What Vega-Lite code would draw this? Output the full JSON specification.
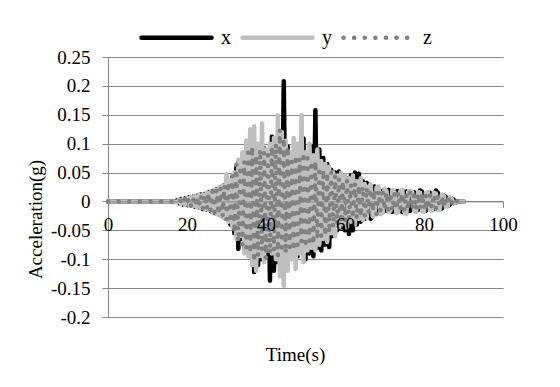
{
  "$schema": "https://vega.github.io/schema/vega-lite/v6.json",
  "width": 395,
  "height": 260,
  "autosize": {"type": "none"},
  "padding": {"left": 108, "top": 57, "right": 57, "bottom": 70},
  "background": "white",
  "data": {"values": [
    {"t":0,"x":0,"y":0,"z":0},
    {"t":17,"x":0,"y":0,"z":0},
    {"t":17.5,"x":0.002,"y":-0.002,"z":0.001},
    {"t":18,"x":-0.003,"y":0.003,"z":-0.002},
    {"t":18.5,"x":0.004,"y":-0.004,"z":0.003},
    {"t":19,"x":-0.005,"y":0.004,"z":-0.004},
    {"t":19.5,"x":0.005,"y":-0.006,"z":0.005},
    {"t":20,"x":-0.006,"y":0.006,"z":-0.005},
    {"t":20.5,"x":0.007,"y":-0.007,"z":0.006},
    {"t":21,"x":-0.007,"y":0.008,"z":-0.007},
    {"t":21.5,"x":0.008,"y":-0.008,"z":0.007},
    {"t":22,"x":-0.009,"y":0.009,"z":-0.008},
    {"t":22.5,"x":0.01,"y":-0.01,"z":0.009},
    {"t":23,"x":-0.01,"y":0.011,"z":-0.01},
    {"t":23.5,"x":0.012,"y":-0.011,"z":0.011},
    {"t":24,"x":-0.013,"y":0.012,"z":-0.012},
    {"t":24.5,"x":0.013,"y":-0.014,"z":0.012},
    {"t":25,"x":-0.014,"y":0.015,"z":-0.014},
    {"t":25.5,"x":0.016,"y":-0.015,"z":0.015},
    {"t":26,"x":-0.017,"y":0.017,"z":-0.016},
    {"t":26.5,"x":0.018,"y":-0.019,"z":0.018},
    {"t":27,"x":-0.02,"y":0.02,"z":-0.019},
    {"t":27.5,"x":0.021,"y":-0.022,"z":0.021},
    {"t":28,"x":-0.022,"y":0.024,"z":-0.023},
    {"t":28.5,"x":0.024,"y":-0.025,"z":0.024},
    {"t":29,"x":-0.026,"y":0.027,"z":-0.026},
    {"t":29.5,"x":0.028,"y":-0.03,"z":0.028},
    {"t":30,"x":-0.03,"y":0.047,"z":-0.031},
    {"t":30.5,"x":0.033,"y":-0.035,"z":0.034},
    {"t":31,"x":-0.04,"y":0.038,"z":-0.037},
    {"t":31.5,"x":0.042,"y":-0.045,"z":0.045},
    {"t":32,"x":-0.055,"y":0.05,"z":-0.055},
    {"t":32.5,"x":0.06,"y":-0.065,"z":0.065},
    {"t":33,"x":-0.082,"y":0.072,"z":-0.07},
    {"t":33.5,"x":0.07,"y":-0.06,"z":0.062},
    {"t":34,"x":-0.065,"y":0.085,"z":-0.075},
    {"t":34.5,"x":0.08,"y":-0.09,"z":0.07},
    {"t":35,"x":-0.075,"y":0.105,"z":-0.08},
    {"t":35.5,"x":0.09,"y":-0.095,"z":0.085},
    {"t":36,"x":-0.095,"y":0.125,"z":-0.09},
    {"t":36.5,"x":0.1,"y":-0.11,"z":0.095},
    {"t":37,"x":-0.122,"y":0.13,"z":-0.105},
    {"t":37.5,"x":0.095,"y":-0.12,"z":0.08},
    {"t":38,"x":-0.11,"y":0.1,"z":-0.095},
    {"t":38.5,"x":0.085,"y":-0.095,"z":0.09},
    {"t":39,"x":-0.1,"y":0.135,"z":-0.085},
    {"t":39.5,"x":0.092,"y":-0.105,"z":0.085},
    {"t":40,"x":-0.095,"y":0.09,"z":-0.1},
    {"t":40.5,"x":0.08,"y":-0.085,"z":0.08},
    {"t":41,"x":-0.137,"y":0.1,"z":-0.09},
    {"t":41.5,"x":0.112,"y":-0.09,"z":0.095},
    {"t":42,"x":-0.12,"y":0.11,"z":-0.085},
    {"t":42.5,"x":0.1,"y":-0.1,"z":0.1},
    {"t":43,"x":-0.105,"y":0.149,"z":-0.095},
    {"t":43.5,"x":0.115,"y":-0.13,"z":0.125},
    {"t":44,"x":-0.095,"y":0.12,"z":-0.08},
    {"t":44.5,"x":0.208,"y":-0.146,"z":0.11},
    {"t":45,"x":-0.11,"y":0.105,"z":-0.09},
    {"t":45.5,"x":0.095,"y":-0.12,"z":0.095},
    {"t":46,"x":-0.09,"y":0.085,"z":-0.08},
    {"t":46.5,"x":0.08,"y":-0.1,"z":0.07},
    {"t":47,"x":-0.085,"y":0.11,"z":-0.085},
    {"t":47.5,"x":0.09,"y":-0.117,"z":0.08},
    {"t":48,"x":-0.095,"y":0.1,"z":-0.075},
    {"t":48.5,"x":0.085,"y":-0.09,"z":0.075},
    {"t":49,"x":-0.08,"y":0.149,"z":-0.07},
    {"t":49.5,"x":0.109,"y":-0.105,"z":0.085},
    {"t":50,"x":-0.1,"y":0.085,"z":-0.08},
    {"t":50.5,"x":0.08,"y":-0.085,"z":0.075},
    {"t":51,"x":-0.09,"y":0.1,"z":-0.07},
    {"t":51.5,"x":0.095,"y":-0.08,"z":0.07},
    {"t":52,"x":-0.095,"y":0.08,"z":-0.075},
    {"t":52.5,"x":0.158,"y":-0.085,"z":0.07},
    {"t":53,"x":-0.08,"y":0.09,"z":-0.065},
    {"t":53.5,"x":0.09,"y":-0.075,"z":0.06},
    {"t":54,"x":-0.085,"y":0.07,"z":-0.06},
    {"t":54.5,"x":0.075,"y":-0.065,"z":0.055},
    {"t":55,"x":-0.075,"y":0.065,"z":-0.06},
    {"t":55.5,"x":0.065,"y":-0.07,"z":0.05},
    {"t":56,"x":-0.079,"y":0.06,"z":-0.055},
    {"t":56.5,"x":0.055,"y":-0.055,"z":0.05},
    {"t":57,"x":-0.06,"y":0.05,"z":-0.045},
    {"t":57.5,"x":0.05,"y":-0.06,"z":0.045},
    {"t":58,"x":-0.05,"y":0.045,"z":-0.04},
    {"t":58.5,"x":0.052,"y":-0.045,"z":0.04},
    {"t":59,"x":-0.045,"y":0.05,"z":-0.038},
    {"t":59.5,"x":0.045,"y":-0.04,"z":0.035},
    {"t":60,"x":-0.05,"y":0.045,"z":-0.035},
    {"t":60.5,"x":0.04,"y":-0.045,"z":0.036},
    {"t":61,"x":-0.056,"y":0.04,"z":-0.032},
    {"t":61.5,"x":0.045,"y":-0.035,"z":0.03},
    {"t":62,"x":-0.05,"y":0.045,"z":-0.03},
    {"t":62.5,"x":0.05,"y":-0.04,"z":0.032},
    {"t":63,"x":-0.04,"y":0.035,"z":-0.03},
    {"t":63.5,"x":0.048,"y":-0.03,"z":0.028},
    {"t":64,"x":-0.035,"y":0.04,"z":-0.027},
    {"t":64.5,"x":0.035,"y":-0.032,"z":0.026},
    {"t":65,"x":-0.03,"y":0.03,"z":-0.025},
    {"t":65.5,"x":0.032,"y":-0.028,"z":0.024},
    {"t":66,"x":0.028,"y":0.025,"z":-0.02},
    {"t":66.5,"x":-0.03,"y":0.03,"z":0.022},
    {"t":67,"x":-0.025,"y":-0.026,"z":-0.018},
    {"t":67.5,"x":0.026,"y":-0.022,"z":0.02},
    {"t":68,"x":0.022,"y":0.024,"z":-0.022},
    {"t":68.5,"x":-0.018,"y":0.026,"z":0.018},
    {"t":69,"x":-0.02,"y":-0.022,"z":-0.016},
    {"t":69.5,"x":0.018,"y":-0.02,"z":0.017},
    {"t":70,"x":0.02,"y":0.022,"z":-0.015},
    {"t":70.5,"x":-0.016,"y":0.018,"z":0.016},
    {"t":71,"x":0.02,"y":-0.018,"z":-0.014},
    {"t":71.5,"x":0.016,"y":-0.016,"z":0.015},
    {"t":72,"x":-0.018,"y":0.02,"z":-0.016},
    {"t":72.5,"x":-0.015,"y":0.016,"z":0.014},
    {"t":73,"x":0.017,"y":-0.02,"z":-0.015},
    {"t":73.5,"x":0.018,"y":-0.018,"z":0.016},
    {"t":74,"x":-0.016,"y":0.018,"z":-0.014},
    {"t":74.5,"x":-0.018,"y":0.02,"z":0.015},
    {"t":75,"x":0.016,"y":-0.018,"z":-0.016},
    {"t":75.5,"x":0.017,"y":-0.022,"z":0.014},
    {"t":76,"x":-0.017,"y":0.016,"z":-0.015},
    {"t":76.5,"x":-0.016,"y":0.018,"z":0.016},
    {"t":77,"x":0.015,"y":0.017,"z":-0.014},
    {"t":77.5,"x":0.016,"y":-0.016,"z":0.013},
    {"t":78,"x":-0.016,"y":-0.018,"z":-0.015},
    {"t":78.5,"x":-0.015,"y":0.016,"z":0.014},
    {"t":79,"x":0.019,"y":0.015,"z":-0.013},
    {"t":79.5,"x":0.017,"y":-0.016,"z":0.014},
    {"t":80,"x":-0.015,"y":-0.018,"z":-0.013},
    {"t":80.5,"x":-0.016,"y":0.015,"z":0.012},
    {"t":81,"x":0.014,"y":0.016,"z":-0.013},
    {"t":81.5,"x":0.015,"y":-0.015,"z":0.012},
    {"t":82,"x":-0.014,"y":-0.016,"z":-0.012},
    {"t":82.5,"x":-0.013,"y":0.015,"z":0.013},
    {"t":83,"x":0.019,"y":0.014,"z":-0.012},
    {"t":83.5,"x":0.015,"y":-0.014,"z":0.011},
    {"t":84,"x":-0.013,"y":-0.013,"z":-0.011},
    {"t":84.5,"x":-0.012,"y":0.012,"z":0.01},
    {"t":85,"x":0.01,"y":0.01,"z":-0.009},
    {"t":85.5,"x":0.008,"y":-0.009,"z":0.008},
    {"t":86,"x":-0.008,"y":-0.008,"z":-0.007},
    {"t":86.5,"x":-0.006,"y":0.007,"z":0.006},
    {"t":87,"x":0.005,"y":0.005,"z":-0.005},
    {"t":87.5,"x":0.003,"y":-0.004,"z":0.004},
    {"t":88,"x":-0.002,"y":-0.002,"z":-0.003},
    {"t":88.5,"x":0,"y":0,"z":0.002},
    {"t":89,"x":0,"y":0,"z":-0.001},
    {"t":89.5,"x":0,"y":0,"z":0.001},
    {"t":90,"x":0,"y":0,"z":0}
  ]},
  "transform": [{"fold": ["x", "y", "z"], "as": ["series", "value"]}],
  "mark": {"type": "line", "strokeWidth": 4.5, "strokeCap": "round", "strokeJoin": "round"},
  "encoding": {
    "x": {
      "field": "t", "type": "quantitative",
      "scale": {"domain": [0, 100], "nice": false},
      "axis": {
        "title": "Time(s)", "values": [0, 20, 40, 60, 80, 100],
        "offset": -115.6, "grid": false, "zindex": 1,
        "domainColor": "#888888", "tickColor": "#888888", "tickSize": 6,
        "labelPadding": 8, "labelFlush": false,
        "labelFont": "Liberation Serif, Times New Roman, serif", "labelFontSize": 19, "labelColor": "black",
        "titleFont": "Liberation Serif, Times New Roman, serif", "titleFontSize": 19, "titleFontWeight": "normal", "titleColor": "black",
        "titleX": 187, "titleY": 153, "titleBaseline": "middle", "titleAlign": "center"
      }
    },
    "y": {
      "field": "value", "type": "quantitative",
      "scale": {"domain": [-0.2, 0.25], "nice": false, "zero": false},
      "axis": {
        "title": "Acceleration(g)",
        "values": [-0.2, -0.15, -0.1, -0.05, 0, 0.05, 0.1, 0.15, 0.2, 0.25],
        "labelExpr": "'' + datum.value",
        "grid": true, "gridColor": "#888888", "gridWidth": 1,
        "domainColor": "#888888", "tickColor": "#888888", "tickSize": 6,
        "labelPadding": 12,
        "labelFont": "Liberation Serif, Times New Roman, serif", "labelFontSize": 19, "labelColor": "black",
        "titleFont": "Liberation Serif, Times New Roman, serif", "titleFontSize": 19, "titleFontWeight": "normal", "titleColor": "black",
        "titleX": -73, "titleY": 162, "titleBaseline": "middle", "titleAlign": "center", "titleAngle": 270
      }
    },
    "color": {
      "field": "series", "type": "nominal",
      "scale": {"domain": ["x", "y", "z"], "range": ["#000000", "#bfbfbf", "#808080"]},
      "legend": {"title": null, "encode": {"symbols": {"update": {"strokeCap": {"value": "round"}}}}}
    },
    "strokeDash": {
      "field": "series", "type": "nominal",
      "scale": {"domain": ["x", "y", "z"], "range": [[1, 0], [1, 0], [0.1, 10.5]]},
      "legend": {"title": null, "encode": {"symbols": {"update": {"strokeCap": {"value": "round"}}}}}
    }
  },
  "config": {
    "view": {"stroke": null},
    "legend": {
      "orient": "none", "legendX": 31, "legendY": -57, "direction": "horizontal",
      "symbolType": "stroke", "symbolSize": 4900, "symbolStrokeWidth": 4.5,
      "labelFont": "Liberation Serif, Times New Roman, serif", "labelFontSize": 20, "labelColor": "black",
      "labelOffset": 7, "columnPadding": 2, "padding": 0
    }
  }
}
